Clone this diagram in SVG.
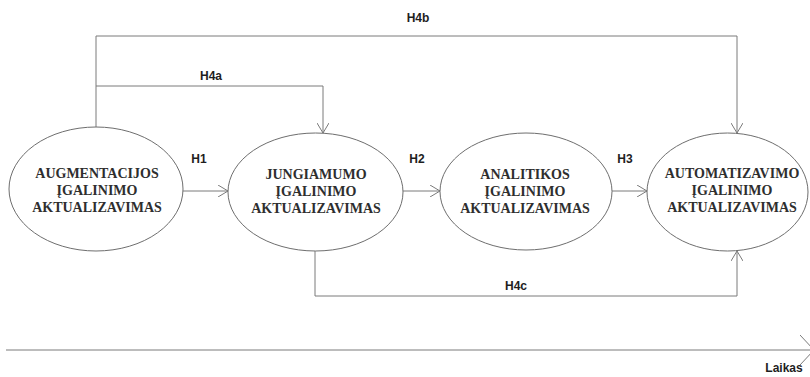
<svg xmlns="http://www.w3.org/2000/svg" width="810" height="377" viewBox="0 0 810 377">
  <style>
    .node ellipse { fill: #ffffff; stroke: #6e6e6e; stroke-width: 1; }
    .ntext { font-family: "Liberation Serif", "DejaVu Serif", serif; font-weight: bold; font-size: 14px; fill: #2e2e2e; text-anchor: middle; }
    .conn { fill: none; stroke: #7a7a7a; stroke-width: 1; }
    .lbl { font-family: "Liberation Sans", Arial, sans-serif; font-weight: bold; font-size: 12px; fill: #1e1e1e; text-anchor: middle; }
  </style>
  <defs>
    <marker id="arr" viewBox="0 0 10 12" refX="10" refY="6" markerWidth="10" markerHeight="12" markerUnits="userSpaceOnUse" orient="auto">
      <path d="M0,0 L10,6 L0,12" fill="none" stroke="#7a7a7a" stroke-width="1"/>
    </marker>
    <marker id="arrBig" viewBox="0 0 14 30" refX="14" refY="15" markerWidth="14" markerHeight="30" markerUnits="userSpaceOnUse" orient="auto">
      <path d="M0,0 L14,15 L0,30" fill="none" stroke="#7a7a7a" stroke-width="1"/>
    </marker>
  </defs>

  <g id="connectors">
    <!-- H1, H2, H3 -->
    <line class="conn" x1="183" y1="191" x2="228" y2="191" marker-end="url(#arr)"/>
    <line class="conn" x1="403" y1="191" x2="440" y2="191" marker-end="url(#arr)"/>
    <line class="conn" x1="612" y1="191" x2="647" y2="191" marker-end="url(#arr)"/>
    <!-- H4a -->
    <polyline class="conn" points="96,127 96,86 323,86 323,133" marker-end="url(#arr)"/>
    <!-- H4b -->
    <polyline class="conn" points="96,86 96,36 737,36 737,133" marker-end="url(#arr)"/>
    <!-- H4c -->
    <polyline class="conn" points="315,251 315,296 737,296 737,251" marker-end="url(#arr)"/>
    <!-- time axis -->
    <line class="conn" x1="6" y1="350" x2="814" y2="350" marker-end="url(#arrBig)"/>
  </g>

  <g id="labels">
    <text class="lbl" x="199" y="163">H1</text>
    <text class="lbl" x="417" y="163">H2</text>
    <text class="lbl" x="625" y="163">H3</text>
    <text class="lbl" x="211" y="80">H4a</text>
    <text class="lbl" x="418" y="22">H4b</text>
    <text class="lbl" x="516" y="290">H4c</text>
    <text class="lbl" x="784" y="372">Laikas</text>
  </g>

  <g id="augmentacijos" class="node">
    <ellipse cx="96" cy="189" rx="87" ry="62"/>
    <text class="ntext" x="97" y="178">AUGMENTACIJOS</text>
    <text class="ntext" x="97" y="195">ĮGALINIMO</text>
    <text class="ntext" x="97" y="212">AKTUALIZAVIMAS</text>
  </g>
  <g id="jungiamumo" class="node">
    <ellipse cx="315.5" cy="192" rx="87.5" ry="59"/>
    <text class="ntext" x="316" y="179">JUNGIAMUMO</text>
    <text class="ntext" x="316" y="196">ĮGALINIMO</text>
    <text class="ntext" x="316" y="213">AKTUALIZAVIMAS</text>
  </g>
  <g id="analitikos" class="node">
    <ellipse cx="526" cy="191.5" rx="86" ry="58.5"/>
    <text class="ntext" x="525" y="179">ANALITIKOS</text>
    <text class="ntext" x="525" y="196">ĮGALINIMO</text>
    <text class="ntext" x="525" y="213">AKTUALIZAVIMAS</text>
  </g>
  <g id="automatizavimo" class="node">
    <ellipse cx="727.5" cy="192" rx="80.5" ry="59"/>
    <text class="ntext" x="732" y="178">AUTOMATIZAVIMO</text>
    <text class="ntext" x="732" y="195">ĮGALINIMO</text>
    <text class="ntext" x="732" y="212">AKTUALIZAVIMAS</text>
  </g>
</svg>
